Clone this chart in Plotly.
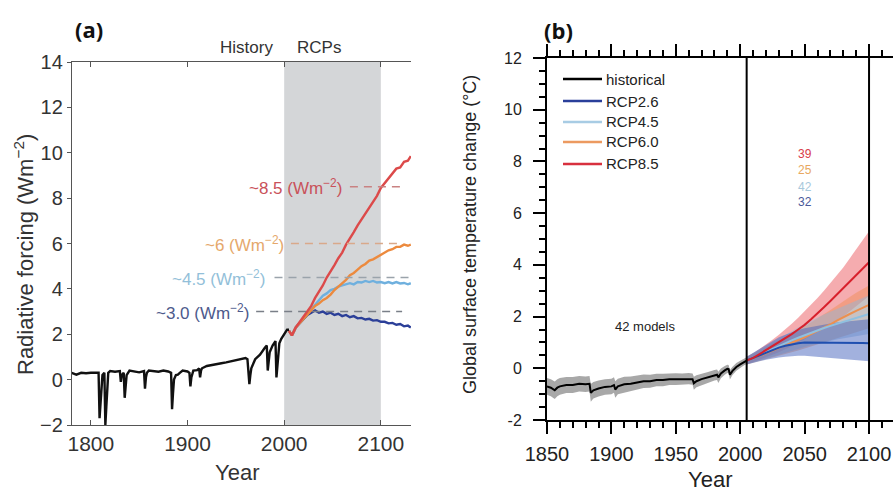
import plotly.graph_objects as go

# ---------------- Panel (a): radiative forcing ----------------
hist_a_years = [1780, 1785, 1790, 1795, 1800, 1805, 1808, 1809, 1810, 1811, 1812, 1814, 1815, 1816, 1817, 1818,
                1820, 1825, 1830, 1831, 1832, 1834, 1835, 1836, 1837, 1840, 1845, 1850, 1855, 1856, 1857, 1858,
                1860, 1865, 1870, 1875, 1880, 1883, 1884, 1885, 1886, 1888, 1890, 1892, 1895, 1900, 1902, 1903,
                1904, 1906, 1910, 1912, 1913, 1914, 1915, 1920, 1925, 1930, 1935, 1940, 1945, 1950, 1955, 1960,
                1962, 1963, 1964, 1965, 1966, 1968, 1970, 1975, 1978, 1980, 1982, 1983, 1984, 1985, 1988, 1990,
                1991, 1992, 1993, 1994, 1995, 1997, 2000, 2003, 2005]
hist_a_rf = [0.3, 0.22, 0.3, 0.28, 0.3, 0.3, 0.3, -1.7, -0.9, 0.0, 0.2, 0.3, -2.0, -1.2, -0.1, 0.3,
             0.38, 0.35, 0.38, -0.1, 0.2, 0.3, -0.8, -0.3, 0.2, 0.4, 0.35, 0.32, 0.38, -0.4, 0.1, 0.3,
             0.4, 0.38, 0.35, 0.4, 0.36, 0.3, -1.3, -0.6, 0.0, 0.2, 0.22, 0.3, 0.4, 0.36, 0.3, -0.3,
             0.1, 0.4, 0.42, 0.5, 0.1, 0.4, 0.5, 0.6, 0.65, 0.7, 0.72, 0.76, 0.8, 0.86, 0.9, 0.95,
             0.9, 0.2, -0.2, 0.2, 0.5, 0.7, 0.9, 1.1, 1.3, 1.4, 1.5, 0.4, 0.8, 1.2, 1.5, 1.6,
             1.7, 0.1, 0.6, 1.3, 1.6, 1.8, 2.0, 2.2, 2.2]

rcp_a_years = [2005, 2008, 2012, 2016, 2020, 2024, 2028, 2032, 2036, 2040, 2044, 2048, 2052, 2056, 2060, 2064,
               2068, 2072, 2076, 2080, 2084, 2088, 2092, 2096, 2100, 2104, 2108, 2112, 2116, 2120, 2124, 2128, 2131]
rf_rcp26 = [2.15, 1.95, 2.3, 2.5, 2.7, 2.85, 2.95, 3.05, 2.95, 3.0, 2.9, 2.95, 2.85, 2.9, 2.8, 2.85,
            2.75, 2.8, 2.7, 2.72, 2.65, 2.68, 2.6, 2.62, 2.55, 2.55, 2.48, 2.5, 2.42, 2.45, 2.35, 2.38, 2.3]
rf_rcp45 = [2.15, 1.95, 2.3, 2.5, 2.7, 2.9, 3.1, 3.35, 3.5, 3.7, 3.8, 3.95, 4.0, 4.1, 4.15, 4.2,
            4.25, 4.2, 4.3, 4.28, 4.35, 4.3, 4.35, 4.28, 4.3, 4.25, 4.3, 4.24, 4.3, 4.24, 4.26, 4.2, 4.25]
rf_rcp60 = [2.15, 1.95, 2.3, 2.5, 2.65, 2.85, 3.05, 3.25, 3.35, 3.5, 3.6, 3.75, 3.95, 4.1, 4.25, 4.4,
            4.6, 4.7, 4.85, 5.0, 5.1, 5.25, 5.3, 5.4, 5.5, 5.6, 5.7, 5.75, 5.85, 5.85, 5.95, 5.9, 5.95]
rf_rcp85 = [2.15, 1.95, 2.3, 2.55, 2.75, 3.0, 3.25, 3.6, 3.85, 4.15, 4.5, 4.75, 5.05, 5.35, 5.6, 5.95,
            6.2, 6.5, 6.8, 7.05, 7.3, 7.6, 7.85, 8.1, 8.45, 8.65, 8.9, 9.05, 9.3, 9.35, 9.6, 9.65, 9.85]

level_values = [8.5, 6.0, 4.5, 3.0]
level_labels = ["~8.5 (Wm<sup>−2</sup>)", "~6 (Wm<sup>−2</sup>)", "~4.5 (Wm<sup>−2</sup>)", "~3.0 (Wm<sup>−2</sup>)"]
level_text_end = [2062, 2002, 1982, 1966]
level_line_start = [2068, 2007, 1990, 1971]
level_line_end = [2120, 2122, 2130, 2122]

# ---------------- Panel (b): temperature change ----------------
hist_b_years = [1850, 1853, 1856, 1858, 1860, 1865, 1870, 1875, 1880, 1883, 1884, 1886, 1890, 1895, 1900, 1902,
                1903, 1905, 1910, 1915, 1920, 1925, 1930, 1935, 1940, 1945, 1950, 1955, 1960, 1963, 1964, 1966,
                1970, 1975, 1980, 1982, 1983, 1985, 1988, 1990, 1991, 1992, 1994, 1997, 2000, 2003, 2005]
hist_b_temp = [-0.7, -0.75, -0.85, -0.75, -0.7, -0.65, -0.65, -0.6, -0.62, -0.6, -0.95, -0.85, -0.78, -0.72, -0.7, -0.65,
               -0.82, -0.7, -0.62, -0.6, -0.55, -0.5, -0.5, -0.45, -0.45, -0.42, -0.42, -0.42, -0.4, -0.42, -0.58, -0.5,
               -0.42, -0.35, -0.27, -0.25, -0.35, -0.2, -0.08, -0.02, -0.03, -0.25, -0.1, 0.05, 0.15, 0.25, 0.3]
hist_b_spread = [0.32, 0.33, 0.34, 0.33, 0.32, 0.31, 0.31, 0.3, 0.3, 0.3, 0.34, 0.32, 0.31, 0.3, 0.3, 0.3,
                 0.32, 0.3, 0.29, 0.28, 0.27, 0.26, 0.25, 0.24, 0.24, 0.23, 0.23, 0.22, 0.22, 0.22, 0.25, 0.23,
                 0.22, 0.21, 0.2, 0.2, 0.22, 0.19, 0.17, 0.16, 0.16, 0.18, 0.16, 0.15, 0.14, 0.13, 0.13]

proj_years = [2005, 2010, 2015, 2020, 2025, 2030, 2035, 2040, 2045, 2050,
              2055, 2060, 2065, 2070, 2075, 2080, 2085, 2090, 2095, 2100]
t85_mean = [0.3, 0.4, 0.55, 0.7, 0.85, 1.0, 1.15, 1.32, 1.5, 1.68, 1.9, 2.12, 2.36, 2.6, 2.85, 3.1, 3.35, 3.6, 3.85, 4.1]
t85_lo = [0.15, 0.22, 0.32, 0.42, 0.52, 0.62, 0.72, 0.85, 0.98, 1.1, 1.25, 1.4, 1.55, 1.7, 1.85, 2.0, 2.2, 2.4, 2.6, 2.8]
t85_hi = [0.45, 0.58, 0.75, 0.92, 1.1, 1.3, 1.5, 1.72, 1.95, 2.2, 2.45, 2.72, 3.0, 3.3, 3.6, 3.9, 4.25, 4.6, 4.95, 5.3]
t60_mean = [0.3, 0.38, 0.48, 0.58, 0.68, 0.78, 0.88, 0.98, 1.08, 1.2, 1.32, 1.44, 1.56, 1.7, 1.84, 1.98, 2.1, 2.22, 2.34, 2.45]
t60_lo = [0.15, 0.2, 0.27, 0.34, 0.41, 0.48, 0.55, 0.62, 0.69, 0.77, 0.85, 0.93, 1.0, 1.08, 1.16, 1.24, 1.32, 1.4, 1.47, 1.55]
t60_hi = [0.45, 0.56, 0.69, 0.82, 0.95, 1.08, 1.21, 1.34, 1.47, 1.62, 1.77, 1.92, 2.08, 2.25, 2.42, 2.6, 2.76, 2.92, 3.06, 3.2]
t45_mean = [0.3, 0.4, 0.5, 0.62, 0.74, 0.86, 0.98, 1.08, 1.18, 1.28, 1.38, 1.47, 1.56, 1.64, 1.72, 1.8, 1.88, 1.95, 2.02, 2.1]
t45_lo = [0.15, 0.22, 0.29, 0.37, 0.45, 0.53, 0.61, 0.68, 0.75, 0.82, 0.89, 0.95, 1.01, 1.06, 1.11, 1.16, 1.21, 1.25, 1.29, 1.33]
t45_hi = [0.45, 0.58, 0.71, 0.86, 1.01, 1.16, 1.31, 1.45, 1.58, 1.71, 1.84, 1.96, 2.08, 2.19, 2.3, 2.41, 2.52, 2.62, 2.72, 2.82]
t26_mean = [0.3, 0.4, 0.52, 0.63, 0.72, 0.8, 0.87, 0.93, 0.97, 1.0, 1.0, 1.0, 1.0, 1.0, 1.0, 1.0, 0.99, 0.98, 0.98, 0.97]
t26_lo = [0.15, 0.2, 0.27, 0.33, 0.38, 0.42, 0.45, 0.47, 0.48, 0.48, 0.47, 0.45, 0.42, 0.4, 0.37, 0.35, 0.33, 0.31, 0.29, 0.27]
t26_hi = [0.45, 0.6, 0.77, 0.93, 1.07, 1.2, 1.3, 1.4, 1.48, 1.55, 1.6, 1.65, 1.7, 1.73, 1.77, 1.8, 1.83, 1.86, 1.88, 1.9]

legend_names = ["historical", "RCP2.6", "RCP4.5", "RCP6.0", "RCP8.5"]
model_counts = ["39", "25", "42", "32"]
model_count_y = [8.3, 7.65, 7.02, 6.42]

# ---------------- styling ----------------
W, H = 893, 492
FONT = "Liberation Sans, Arial, sans-serif"
C_A = {"26": "#2b3f98", "45": "#6fb0de", "60": "#ec8a3e", "85": "#dc4a4a"}
C_A_TXT = ["#c9525a", "#e5a86c", "#93bfd9", "#4d5a8c"]
C_A_DASH = ["#c98282", "#d9a98a", "#9aa3ab", "#7a7f88"]
C_B = {"hist": "#000000", "26": "#1f4fb0", "45": "#8fc0e0", "60": "#ec9050", "85": "#d8202c"}
C_B_BAND = {"26": "rgba(70,100,190,0.5)", "45": "rgba(140,185,220,0.45)",
            "60": "rgba(240,140,80,0.45)", "85": "rgba(235,90,95,0.5)"}
C_B_CNT = ["#d8404a", "#e8a860", "#a8c8dc", "#4a5a9a"]


def pxx(x):
    return x / W


def pxy(y):
    return 1 - y / H


def label(x, y, text, size, color, family=FONT, angle=0, anchor="center"):
    return dict(x=pxx(x), y=pxy(y), xref="paper", yref="paper", text=text, showarrow=False,
                xanchor=anchor, yanchor="middle", textangle=angle,
                font=dict(family=family, size=size, color=color))


fig = go.Figure()

# Panel (a) traces
fig.add_trace(go.Scatter(x=hist_a_years, y=hist_a_rf, mode="lines", line=dict(color="#111111", width=2.4),
                         xaxis="x", yaxis="y", showlegend=False))
for key, vals in [("26", rf_rcp26), ("45", rf_rcp45), ("60", rf_rcp60), ("85", rf_rcp85)]:
    fig.add_trace(go.Scatter(x=rcp_a_years, y=vals, mode="lines", line=dict(color=C_A[key], width=2.4),
                             xaxis="x", yaxis="y", showlegend=False))

# Panel (b) traces: bands
for key, lo, hi in [("85", t85_lo, t85_hi), ("60", t60_lo, t60_hi), ("45", t45_lo, t45_hi), ("26", t26_lo, t26_hi)]:
    fig.add_trace(go.Scatter(x=proj_years + proj_years[::-1], y=hi + lo[::-1], fill="toself",
                             fillcolor=C_B_BAND[key], line=dict(width=0), mode="lines",
                             xaxis="x2", yaxis="y2", showlegend=False, hoverinfo="skip"))
hist_hi = [m + s for m, s in zip(hist_b_temp, hist_b_spread)]
hist_lo = [m - s for m, s in zip(hist_b_temp, hist_b_spread)]
fig.add_trace(go.Scatter(x=hist_b_years + hist_b_years[::-1], y=hist_hi + hist_lo[::-1], fill="toself",
                         fillcolor="rgba(110,110,110,0.6)", line=dict(width=0), mode="lines",
                         xaxis="x2", yaxis="y2", showlegend=False, hoverinfo="skip"))
for key, vals in [("60", t60_mean), ("45", t45_mean), ("26", t26_mean), ("85", t85_mean)]:
    fig.add_trace(go.Scatter(x=proj_years, y=vals, mode="lines", line=dict(color=C_B[key], width=2),
                             xaxis="x2", yaxis="y2", showlegend=False))
fig.add_trace(go.Scatter(x=hist_b_years, y=hist_b_temp, mode="lines", line=dict(color="#000000", width=2),
                         xaxis="x2", yaxis="y2", showlegend=False))

shapes = []
annotations = []

# (a) gray RCP period band
shapes.append(dict(type="rect", xref="x", yref="y domain", x0=2000, x1=2100, y0=0, y1=1,
                   fillcolor="#d4d6d8", line=dict(width=0), layer="below"))
# (a) dashed levels + labels
for v, lab, te, ls, le, ct, cd in zip(level_values, level_labels, level_text_end, level_line_start,
                                      level_line_end, C_A_TXT, C_A_DASH):
    shapes.append(dict(type="line", xref="x", yref="y", x0=ls, x1=le, y0=v, y1=v,
                       line=dict(color=cd, width=1.6, dash="8px,6px")))
    annotations.append(dict(x=te, y=v, xref="x", yref="y", text=lab, showarrow=False, xanchor="right",
                            yanchor="middle", font=dict(family=FONT, size=17, color=ct)))

# (b) vertical lines
for xv in [2005, 2100]:
    shapes.append(dict(type="line", xref="x2", yref="y2 domain", x0=xv, x1=xv, y0=0, y1=1,
                       line=dict(color="black", width=2)))

# (b) legend (manual)
leg_y = [79, 101, 122, 142, 164]
leg_cols = [C_B["hist"], "#2a3f9a", "#a8cce4", "#ec9a60", "#d8303e"]
for name, yy, col in zip(legend_names, leg_y, leg_cols):
    shapes.append(dict(type="line", xref="paper", yref="paper", x0=pxx(563), x1=pxx(602),
                       y0=pxy(yy), y1=pxy(yy), line=dict(color=col, width=2.5)))
    annotations.append(label(604, yy, name, 15, "#222", anchor="left"))

# (b) model counts
for txt, yv, col in zip(model_counts, model_count_y, C_B_CNT):
    annotations.append(dict(x=2050, y=yv, xref="x2", yref="y2", text=txt, showarrow=False,
                            xanchor="center", yanchor="middle",
                            font=dict(family=FONT, size=12, color=col)))
annotations.append(dict(x=1926, y=1.6, xref="x2", yref="y2", text="42 models", showarrow=False,
                        xanchor="center", yanchor="middle",
                        font=dict(family=FONT, size=13, color="#222")))

# titles and labels
annotations += [
    label(89, 29, "<b>(a)</b>", 22, "#111", family="Open Sans, sans-serif"),
    label(558, 30, "<b>(b)</b>", 22, "#111", family="Open Sans, sans-serif"),
    label(246, 48, "History", 17, "#333"),
    label(319, 48, "RCPs", 17, "#333"),
    label(24, 255, "Radiative forcing (Wm<sup>−2</sup>)", 22, "#333", angle=-90),
    label(237, 472, "Year", 22, "#333"),
    label(470, 235, "Global surface temperature change (°C)", 18, "#222", angle=-90),
    label(710, 479, "Year", 22, "#222"),
]

fig.update_layout(
    width=W, height=H, margin=dict(l=0, r=0, t=0, b=0, autoexpand=False),
    paper_bgcolor="white", plot_bgcolor="rgba(0,0,0,0)",
    showlegend=False, shapes=shapes, annotations=annotations,
    xaxis=dict(domain=[pxx(72), pxx(411)], range=[1780.5, 2131.2], anchor="y", automargin=False,
               tickvals=[1800, 1900, 2000, 2100], ticks="inside", ticklen=5, tickcolor="#555",
               showline=True, linecolor="#555", linewidth=1.3, mirror="ticks",
               showgrid=False, zeroline=False, tickfont=dict(family=FONT, size=21, color="#333")),
    yaxis=dict(domain=[pxy(425), pxy(62)], range=[-2, 14], anchor="x", dtick=2, automargin=False,
               ticks="outside", ticklen=4, tickcolor="#555", showline=True, linecolor="#555",
               linewidth=1.3, showgrid=False, zeroline=False,
               tickfont=dict(family=FONT, size=20, color="#333")),
    xaxis2=dict(domain=[pxx(547), 1.0], range=[1850, 2118.6], anchor="y2", automargin=False,
                tickvals=[1850, 1900, 1950, 2000, 2050, 2100], ticks="outside", ticklen=12, tickwidth=2,
                tickcolor="black", showline=True, linecolor="black", linewidth=2, mirror="ticks",
                minor=dict(tick0=1850, dtick=10, ticks="outside", ticklen=6, tickwidth=1.5, tickcolor="black"),
                showgrid=False, zeroline=False, ticklabelstandoff=3,
                tickfont=dict(family=FONT, size=20, color="#222")),
    yaxis2=dict(domain=[pxy(420), pxy(58)], range=[-2, 12], anchor="x2", automargin=False,
                tickvals=[-2, 0, 2, 4, 6, 8, 10, 12], ticktext=["-2", "0", "2", "4", "6", "8", "10", "12"],
                ticks="outside", ticklen=12, tickwidth=2, tickcolor="black", showline=True,
                linecolor="black", linewidth=2,
                minor=dict(tick0=0, dtick=0.5, ticks="outside", ticklen=6, tickwidth=1.5, tickcolor="black"),
                showgrid=False, zeroline=False, ticklabelstandoff=8,
                tickfont=dict(family=FONT, size=16, color="#222")),
)

fig.write_html("out.html")
